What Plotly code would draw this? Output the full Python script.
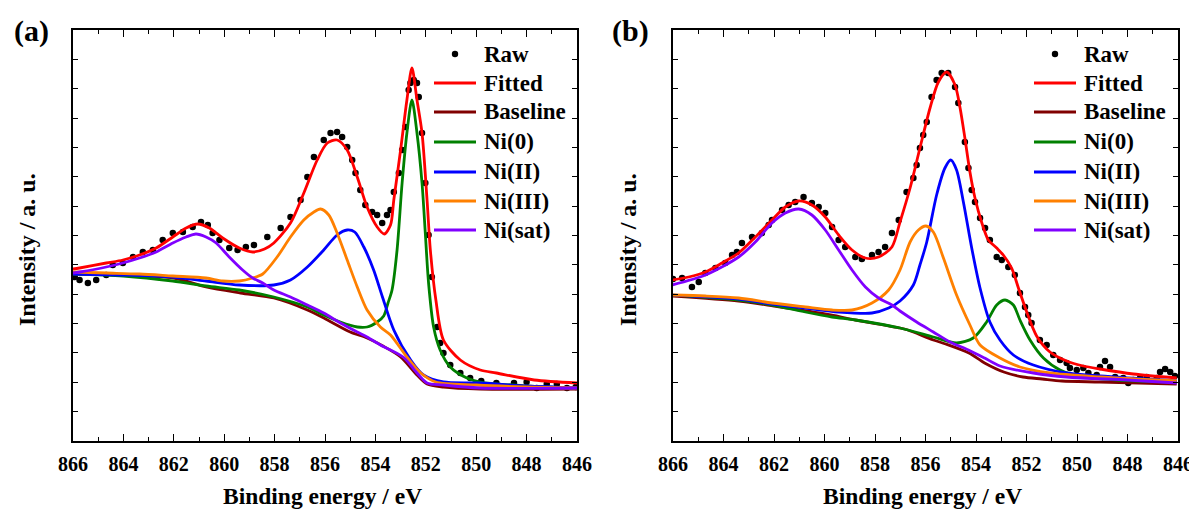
import plotly.graph_objects as go

# ---------------- Panel (a) data (binding energy eV, intensity a.u.) ----------------
a_raw_x = [865.93, 865.74, 865.41, 865.08, 864.68, 864.42, 864.02, 863.62, 863.23, 862.83,
           862.44, 862.04, 861.64, 861.25, 860.92, 860.65, 860.46, 860.19, 859.80, 859.47,
           859.14, 858.82, 858.29, 857.76, 857.37, 856.97, 856.70, 856.44, 856.05, 855.78,
           855.52, 855.32, 855.12, 854.92, 854.79, 854.60, 854.40, 854.13, 853.93, 853.73,
           853.54, 853.40, 853.27, 853.07, 852.94, 852.81, 852.68, 852.61, 852.48, 852.35,
           852.28, 852.15, 852.02, 851.89, 851.76, 851.55, 851.43, 851.30, 851.03, 850.63,
           850.24, 849.80, 849.20, 848.50, 848.00, 847.60, 847.20, 846.80, 846.40, 846.05]
a_raw_y = [164, 161, 158, 161, 166, 176, 178, 184, 189, 191,
           201, 208, 209, 214, 219, 216, 208, 201, 193, 191,
           194, 196, 204, 213, 224, 241, 264, 284, 301, 308,
           309, 304, 294, 281, 268, 251, 236, 229, 226, 218,
           226, 231, 249, 268, 291, 314, 351, 358, 361, 358,
           344, 308, 258, 206, 164, 114, 98, 88, 76, 68,
           63, 60, 58, 58, 59, 53, 57, 57, 53, 54]

a_fit_x = [866.0, 865.74, 864.68, 864.02, 863.36, 862.7, 862.04, 861.51, 861.05, 860.59,
           860.06, 859.4, 858.87, 858.4, 858.03, 857.37, 856.84, 856.31, 855.91, 855.52,
           855.12, 854.72, 854.33, 853.93, 853.65, 853.4, 853.27, 853.0, 852.75, 852.55,
           852.35, 852.15, 851.95, 851.82, 851.6, 851.3, 850.63, 849.84, 849.2, 847.7, 846.0]
a_fit_y = [172, 173, 178, 181, 186, 193, 204, 213, 217, 213,
           203, 193, 189, 192, 198, 218, 248, 281, 298, 301,
           291, 264, 234, 214, 207, 216, 241, 291, 341, 373,
           341, 308, 241, 191, 141, 101, 81, 71, 68, 61, 58]

a_base_x = [866.0, 864.0, 862.0, 860.72, 859.35, 858.03, 856.7, 855.9, 855.0, 854.33,
            853.7, 853.0, 852.35, 851.95, 851.3, 849.84, 846.0]
a_base_y = [167, 166, 163, 154, 148, 143, 131, 121, 109, 103,
            95, 84, 66, 57, 54, 52, 52]

a_ni0_x = [866.0, 864.0, 862.04, 860.72, 859.4, 858.03, 856.7, 856.05, 855.39, 854.72,
           854.33, 853.93, 853.67, 853.5, 853.34, 853.14, 852.94, 852.75, 852.55, 852.35,
           852.15, 852.02, 851.89, 851.69, 851.43, 851.03, 850.37, 849.84, 848.0, 846.0]
a_ni0_y = [167, 165, 160, 155, 151, 144, 134, 126, 119, 114,
           114, 119, 125, 138, 151, 191, 258, 308, 341, 308,
           258, 208, 158, 114, 91, 74, 63, 59, 55, 53]

a_ni2_x = [866.0, 864.0, 862.04, 860.72, 859.4, 858.03, 857.37, 856.7, 856.05, 855.52,
           855.12, 854.82, 854.46, 854.07, 853.72, 853.27, 852.6, 852.09, 851.3, 849.84,
           848.0, 846.0]
a_ni2_y = [167, 166, 164, 160, 156, 156, 161, 174, 191, 206,
           211, 209, 194, 171, 144, 111, 81, 66, 59, 58,
           55, 53]

a_ni3_x = [866.0, 864.68, 863.36, 862.04, 860.72, 860.06, 859.4, 858.87, 858.47, 857.9,
           857.37, 856.84, 856.44, 856.18, 855.85, 855.52, 855.12, 854.72, 854.33, 853.8,
           853.4, 852.75, 852.2, 851.6, 850.0, 848.0, 846.0]
a_ni3_y = [169, 168, 167, 165, 163, 160, 160, 163, 167, 184,
           204, 221, 229, 232, 226, 208, 181, 154, 131, 114,
           106, 84, 68, 59, 56, 54, 53]

a_sat_x = [866.0, 865.74, 864.68, 864.02, 863.36, 862.7, 862.04, 861.51, 861.12, 860.72,
           860.32, 859.8, 859.27, 858.87, 858.47, 858.03, 857.37, 856.7, 856.05, 855.39,
           854.72, 854.33, 853.8, 852.9, 852.35, 851.95, 851.3, 849.84, 846.0]
a_sat_y = [168, 169, 174, 178, 183, 189, 198, 204, 207, 204,
           198, 184, 171, 163, 158, 151, 144, 136, 128, 118,
           109, 104, 96, 84, 68, 58, 56, 53, 53]

# ---------------- Panel (b) data ----------------
b_raw_x = [866.0, 865.64, 865.25, 864.98, 864.72, 864.32, 863.93, 863.66, 863.47, 863.27,
           862.87, 862.48, 862.21, 862.08, 861.68, 861.42, 861.16, 860.83, 860.5, 860.23,
           859.97, 859.7, 859.44, 859.18, 858.78, 858.52, 858.12, 857.86, 857.6, 857.33,
           857.06, 856.75, 856.48, 856.35, 856.22, 856.09, 855.95, 855.76, 855.56, 855.36,
           855.1, 854.83, 854.7, 854.44, 854.3, 854.17, 854.04, 853.84, 853.64, 853.45,
           853.18, 852.98, 852.72, 852.46, 852.26, 852.06, 851.93, 851.8, 851.47, 851.2,
           850.94, 850.67, 850.41, 850.28, 850.01, 849.75, 849.55, 849.22, 849.09, 848.89,
           848.69, 848.49, 848.17, 847.97, 847.77, 847.5, 847.24, 846.84, 846.71, 846.51,
           846.31, 846.12]
b_raw_y = [162, 163, 154, 159, 168, 173, 178, 186, 189, 198,
           204, 208, 216, 221, 231, 236, 239, 244, 238, 234,
           228, 214, 201, 194, 184, 182, 186, 189, 194, 208,
           221, 249, 263, 276, 293, 306, 319, 344, 361, 368,
           368, 354, 338, 299, 273, 251, 239, 223, 213, 201,
           184, 181, 174, 166, 148, 134, 126, 118, 101, 96,
           86, 81, 78, 73, 71, 73, 68, 66, 74, 80,
           74, 64, 63, 58, 61, 63, 64, 63, 69, 72,
           69, 65]

b_fit_x = [866.04, 865.38, 864.72, 864.06, 863.4, 862.74, 862.08, 861.55, 861.02, 860.5,
           859.97, 859.44, 858.91, 858.38, 857.86, 857.33, 857.01, 856.61, 856.22, 855.82,
           855.49, 855.16, 854.83, 854.63, 854.44, 854.24, 854.04, 853.78, 853.51, 853.18,
           852.92, 852.59, 852.32, 851.99, 851.6, 851.07, 850.41, 849.75, 849.09, 847.77,
           846.05]
b_fit_y = [161, 164, 169, 178, 188, 204, 221, 234, 240, 236,
           224, 206, 191, 183, 184, 194, 219, 253, 293, 333,
           359, 369, 356, 333, 303, 269, 243, 219, 201, 193,
           186, 173, 153, 129, 105, 89, 80, 75, 72, 67,
           63]

b_base_x = [866.04, 863.4, 862.0, 859.75, 858.78, 857.01, 856.7, 855.69, 855.2, 854.28,
            853.66, 852.9, 852.14, 851.38, 850.6, 849.09, 846.05]
b_base_y = [145, 140, 135, 126, 121, 113, 111, 101, 97, 88,
            78, 69, 64, 62, 60, 59, 57]

b_ni0_x = [866.04, 863.4, 862.08, 860.76, 859.7, 858.78, 857.01, 855.69, 854.77, 854.11,
           853.58, 853.18, 852.85, 852.52, 852.26, 851.86, 851.33, 850.67, 849.75, 848.43,
           846.05]
b_ni0_y = [146, 141, 136, 129, 124, 121, 113, 104, 98, 103,
           119, 136, 141, 136, 121, 101, 83, 71, 64, 61,
           59]

b_ni2_x = [866.04, 863.4, 862.08, 860.76, 859.44, 858.12, 857.46, 857.01, 856.48, 856.22,
           855.95, 855.56, 855.23, 855.0, 854.77, 854.5, 854.17, 853.84, 853.45, 853.05,
           852.52, 851.73, 850.41, 849.09, 846.05]
b_ni2_y = [146, 142, 137, 133, 129, 128, 133, 140, 156, 176,
           199, 246, 273, 281, 271, 239, 193, 153, 119, 101,
           86, 76, 68, 65, 60]

b_ni3_x = [866.04, 864.72, 863.4, 862.08, 860.76, 859.7, 858.91, 858.12, 857.46, 857.01,
           856.61, 856.28, 855.98, 855.69, 855.29, 854.77, 854.24, 853.84, 853.05, 852.26,
           851.07, 849.09, 846.05]
b_ni3_y = [146, 145, 143, 138, 134, 131, 131, 138, 151, 171,
           199, 211, 215, 209, 183, 146, 116, 96, 83, 74,
           68, 64, 60]

b_sat_x = [866.04, 864.72, 863.4, 862.74, 862.08, 861.55, 861.02, 860.5, 859.97, 859.44,
           858.91, 858.38, 857.86, 857.33, 857.01, 856.35, 855.69, 855.03, 854.3, 853.66,
           853.05, 851.73, 850.41, 848.0, 846.05]
b_sat_y = [156, 166, 184, 199, 218, 228, 232, 226, 211, 191,
           171, 154, 143, 136, 130, 119, 109, 99, 91, 83,
           75, 68, 64, 61, 58]

x_tick_vals = [866, 864, 862, 860, 858, 856, 854, 852, 850, 848, 846]
x_tick_text = [str(v) for v in x_tick_vals]

names = ["Raw", "Fitted", "Baseline", "Ni(0)", "Ni(II)", "Ni(III)", "Ni(sat)"]
colors = ["#000000", "#FF0000", "#800000", "#008000", "#0000FF", "#FF8000", "#8000FF"]

FONT = "Liberation Serif"

panels = {
    "a": dict(raw=(a_raw_x, a_raw_y),
              curves=[(a_fit_x, a_fit_y), (a_base_x, a_base_y), (a_ni0_x, a_ni0_y),
                      (a_ni2_x, a_ni2_y), (a_ni3_x, a_ni3_y), (a_sat_x, a_sat_y)]),
    "b": dict(raw=(b_raw_x, b_raw_y),
              curves=[(b_fit_x, b_fit_y), (b_base_x, b_base_y), (b_ni0_x, b_ni0_y),
                      (b_ni2_x, b_ni2_y), (b_ni3_x, b_ni3_y), (b_sat_x, b_sat_y)]),
}

fig = go.Figure()

for i, key in enumerate(["a", "b"]):
    xa = "x" if i == 0 else "x2"
    ya = "y" if i == 0 else "y2"
    rx, ry = panels[key]["raw"]
    fig.add_trace(go.Scatter(x=rx, y=ry, mode="markers", name=names[0],
                             marker=dict(color="black", size=6.5),
                             xaxis=xa, yaxis=ya, showlegend=False))
    for j, (cx, cy) in enumerate(panels[key]["curves"]):
        fig.add_trace(go.Scatter(x=cx, y=cy, mode="lines", name=names[j + 1],
                                 line=dict(color=colors[j + 1], width=2.8, shape="spline", smoothing=0.8),
                                 xaxis=xa, yaxis=ya, showlegend=False))

W, H = 1197, 510
OFF = 8  # page body margin offset compensation (pixels)


def px(x):
    return (x - OFF) / W


def py(y):
    return 1 - (y - OFF) / H


xdom = [[px(73), px(577)], [px(673), px(1178)]]
ydom = [py(441), py(30)]

axis_common_x = dict(range=[866, 846], tickvals=x_tick_vals, ticktext=x_tick_text,
                     ticks="inside", ticklen=7, tickwidth=1.3, tickcolor="black",
                     minor=dict(dtick=1, ticks="inside", ticklen=4, tickwidth=1.2, tickcolor="black"),
                     showline=True, linecolor="black", linewidth=1.5, mirror="allticks",
                     showgrid=False, zeroline=False, ticklabelstandoff=4, automargin=False,
                     tickfont=dict(family=FONT, size=20, color="black", weight="bold"))
axis_common_y = dict(range=[0, 411], dtick=411 / 14, tick0=0, showticklabels=False,
                     ticks="inside", ticklen=5, tickwidth=1.2, tickcolor="black",
                     showline=True, linecolor="black", linewidth=1.5, mirror="allticks",
                     showgrid=False, zeroline=False, automargin=False)

fig.update_layout(
    width=W, height=H, margin=dict(l=0, r=0, t=0, b=0, pad=0, autoexpand=False),
    paper_bgcolor="white", plot_bgcolor="white", showlegend=False,
    xaxis=dict(domain=xdom[0], anchor="y", **axis_common_x),
    yaxis=dict(domain=ydom, anchor="x", **axis_common_y),
    xaxis2=dict(domain=xdom[1], anchor="y2", **axis_common_x),
    yaxis2=dict(domain=ydom, anchor="x2", **axis_common_y),
)

ann = []
shapes = []
title_font = dict(family=FONT, size=23.5, color="black", weight="bold")
for cx in [322, 922]:
    ann.append(dict(text="Binding energy / eV", x=px(cx), y=py(496), xref="paper", yref="paper",
                    showarrow=False, xanchor="center", yanchor="middle", font=title_font))
for cx in [27, 628]:
    ann.append(dict(text="Intensity / a. u.", x=px(cx), y=py(250), xref="paper", yref="paper",
                    showarrow=False, xanchor="center", yanchor="middle", textangle=-90,
                    font=dict(family=FONT, size=24, color="black", weight="bold")))
for cx, lab in [(31, "(a)"), (630, "(b)")]:
    ann.append(dict(text=lab, x=px(cx), y=py(31), xref="paper", yref="paper",
                    showarrow=False, xanchor="center", yanchor="middle",
                    font=dict(family=FONT, size=30, color="black", weight="bold")))

# legend (drawn as key samples + labels) for each panel
leg_rows = [54, 83, 112, 142, 172, 201, 230]
for x0 in [434, 1034]:
    for k, name in enumerate(names):
        yy = leg_rows[k]
        if k == 0:
            shapes.append(dict(type="circle", xref="paper", yref="paper",
                               x0=px(x0 + 21 - 3.2), x1=px(x0 + 21 + 3.2),
                               y0=py(yy + 3.2), y1=py(yy - 3.2),
                               fillcolor="black", line=dict(width=0)))
        else:
            shapes.append(dict(type="line", xref="paper", yref="paper",
                               x0=px(x0), x1=px(x0 + 42), y0=py(yy), y1=py(yy),
                               line=dict(color=colors[k], width=3)))
        ann.append(dict(text=name, x=px(x0 + 48), y=py(yy), xref="paper", yref="paper",
                        showarrow=False, xanchor="left", yanchor="middle",
                        font=dict(family=FONT, size=23, color="black", weight="bold")))

fig.update_layout(annotations=ann, shapes=shapes)

fig.write_html("out.html")
